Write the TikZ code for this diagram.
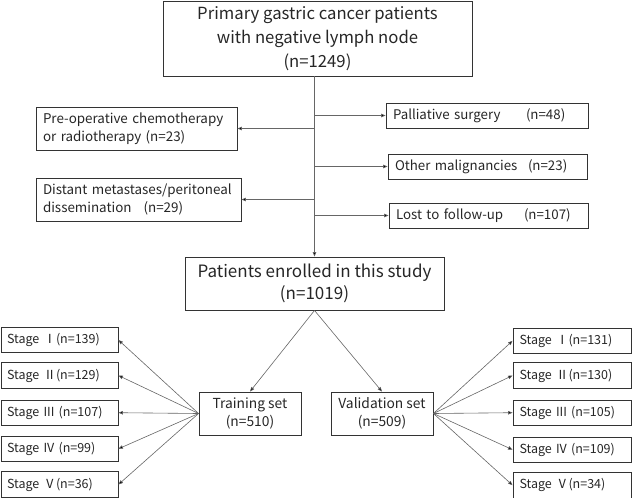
\documentclass[tikz,border=0pt]{standalone}
\usepackage{fontspec}
\setmainfont{Noto Sans CJK SC}
\usetikzlibrary{arrows.meta}
\tikzset{
  box/.style={draw=black!80, line width=0.9pt, inner xsep=7pt, inner ysep=0pt, text=black!85, font=\fontsize{13.4}{17.6}\selectfont},
  bigbox/.style={box, align=center, font=\fontsize{16.7}{24}\selectfont},
  midbox/.style={box, align=center, font=\fontsize{13.8}{18}\selectfont},
  stagebox/.style={box, align=left, inner xsep=6pt, minimum width=117pt, text width=105pt, minimum height=25.5pt, font=\fontsize{12.5}{16}\selectfont},
  conn/.style={draw=black!60, line width=0.6pt, -{Triangle[length=4.5pt,width=3.5pt,fill=black]}},
}
\begin{document}
\begin{tikzpicture}[x=1pt,y=-1pt]
\useasboundingbox (0,0) rectangle (632,498);
% top
\node[bigbox, minimum width=309pt, minimum height=75pt] (top) at (317.5,38.5)
  {Primary gastric cancer patients\\with negative lymph node\\(n=1249)};
% left exclusions
\node[box, align=left, minimum width=201pt, text width=187pt, minimum height=43pt] (preop) at (136.5,128.5)
  {\mbox{Pre-operative chemotherapy}\\or radiotherapy (n=23)};
\node[box, align=left, minimum width=205pt, text width=191pt, minimum height=43pt] (dist) at (138.5,199.5)
  {\mbox{Distant metastases/peritoneal}\\dissemination\hspace{12pt}(n=29)};
% right exclusions
\node[box, align=left, minimum width=202pt, text width=188pt, minimum height=25pt, font=\fontsize{13.3}{16}\selectfont] (pall) at (487,115.5)
  {\makebox[133pt][l]{Palliative surgery}(n=48)};
\node[box, align=left, minimum width=199pt, text width=185pt, minimum height=25pt, font=\fontsize{13.3}{16}\selectfont] (other) at (487.5,166.5)
  {\makebox[133pt][l]{Other malignancies}(n=23)};
\node[box, align=left, minimum width=199pt, text width=185pt, minimum height=25pt, font=\fontsize{13.3}{16}\selectfont] (lost) at (488.5,215.5)
  {\makebox[128pt][l]{Lost to follow-up}(n=107)};
% enrolled
\node[bigbox, minimum width=259pt, minimum height=53pt, font=\fontsize{17}{22}\selectfont] (enr) at (314.5,283.5)
  {Patients enrolled in this study\\(n=1019)};
% sets
\node[midbox, minimum width=102pt, minimum height=43pt] (train) at (250,413.5) {Training set\\(n=510)};
\node[midbox, minimum width=102pt, minimum height=43pt] (valid) at (382,413.5) {Validation set\\(n=509)};
% left stages
\node[stagebox] (l1) at (59.5,340) {Stage Ⅰ(n=139)};
\node[stagebox] (l2) at (59.5,375.5) {Stage Ⅱ(n=129)};
\node[stagebox] (l3) at (59.5,412.7) {Stage III (n=107)};
\node[stagebox] (l4) at (59.5,448.8) {Stage IV (n=99)};
\node[stagebox] (l5) at (59.5,484.5) {Stage Ⅴ(n=36)};
% right stages
\node[stagebox, minimum width=118pt] (r1) at (572,340.8) {Stage Ⅰ(n=131)};
\node[stagebox, minimum width=118pt] (r2) at (572,375.5) {Stage Ⅱ(n=130)};
\node[stagebox, minimum width=118pt] (r3) at (572,412.7) {Stage III (n=105)};
\node[stagebox, minimum width=118pt] (r4) at (572,449.7) {Stage IV (n=109)};
\node[stagebox, minimum width=118pt] (r5) at (572,485.2) {Stage Ⅴ(n=34)};
% connectors
\draw[conn] (enr.north |- top.south) -- (enr.north);
\draw[conn] (preop.east -| enr.north) -- (preop.east);
\draw[conn] (dist.east -| enr.north) -- (dist.east);
\draw[conn] (pall.west -| enr.north) -- (pall.west);
\draw[conn] (other.west -| enr.north) -- (other.west);
\draw[conn] (lost.west -| enr.north) -- (lost.west);
\draw[conn] (enr.south) -- (train.north);
\draw[conn] (enr.south) -- (valid.north);
\foreach \i in {1,...,5} {
  \draw[conn] (train.west) -- (l\i.east);
  \draw[conn] (valid.east) -- (r\i.west);
}
\end{tikzpicture}
\end{document}
